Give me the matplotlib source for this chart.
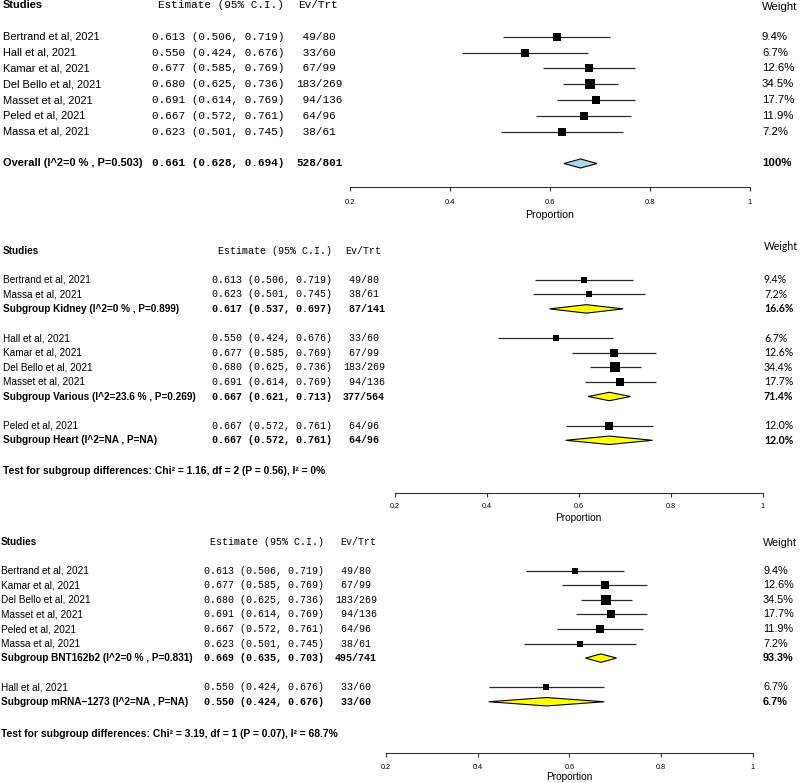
import matplotlib.pyplot as plt
import matplotlib.transforms as mtransforms
import numpy as np

W, H, DPI = 800, 783, 100
SANS = "Liberation Sans"
MONO = "Liberation Mono"

# study-level data (same seven studies in every panel)
study_names = ["Bertrand et al, 2021", "Hall et al, 2021", "Kamar et al, 2021",
               "Del Bello et al, 2021", "Masset et al, 2021", "Peled et al, 2021",
               "Massa et al, 2021"]
study_est = [0.613, 0.550, 0.677, 0.680, 0.691, 0.667, 0.623]
study_lo = [0.506, 0.424, 0.585, 0.625, 0.614, 0.572, 0.501]
study_hi = [0.719, 0.676, 0.769, 0.736, 0.769, 0.761, 0.745]
study_events = [49, 33, 67, 183, 94, 64, 38]
study_totals = [80, 60, 99, 269, 136, 96, 61]

# panel 1: pooled
overall_members = [[0, 1, 2, 3, 4, 5, 6]]
overall_study_weights = [[9.4, 6.7, 12.6, 34.5, 17.7, 11.9, 7.2]]
overall_labels = ["Overall (I^2=0 % , P=0.503)"]
overall_est = [0.661]
overall_lo = [0.628]
overall_hi = [0.694]
overall_events = [528]
overall_totals = [801]
overall_weights = [100]

# panel 2: by transplant type
transplant_members = [[0, 6], [1, 2, 3, 4], [5]]
transplant_study_weights = [[9.4, 7.2], [6.7, 12.6, 34.4, 17.7], [12.0]]
transplant_labels = ["Subgroup Kidney (I^2=0 % , P=0.899)",
                     "Subgroup Various (I^2=23.6 % , P=0.269)",
                     "Subgroup Heart (I^2=NA , P=NA)"]
transplant_est = [0.617, 0.667, 0.667]
transplant_lo = [0.537, 0.621, 0.572]
transplant_hi = [0.697, 0.713, 0.761]
transplant_events = [87, 377, 64]
transplant_totals = [141, 564, 96]
transplant_weights = [16.6, 71.4, 12.0]
transplant_test = "Test for subgroup differences: Chi\u00b2 = 1.16, df = 2 (P = 0.56), I\u00b2 = 0%"

# panel 3: by vaccine
vaccine_members = [[0, 2, 3, 4, 5, 6], [1]]
vaccine_study_weights = [[9.4, 12.6, 34.5, 17.7, 11.9, 7.2], [6.7]]
vaccine_labels = ["Subgroup BNT162b2 (I^2=0 % , P=0.831)",
                  "Subgroup mRNA\u22121273 (I^2=NA , P=NA)"]
vaccine_est = [0.669, 0.550]
vaccine_lo = [0.635, 0.424]
vaccine_hi = [0.703, 0.676]
vaccine_events = [495, 33]
vaccine_totals = [741, 60]
vaccine_weights = [93.3, 6.7]
vaccine_test = "Test for subgroup differences: Chi\u00b2 = 3.19, df = 1 (P = 0.07), I\u00b2 = 68.7%"

x_ticks = [0.2, 0.4, 0.6, 0.8, 1.0]
x_ticklabels = ["0.2", "0.4", "0.6", "0.8", "1"]


def fmt_w(w):
  return "100%" if w == 100 else f"{w:.1f}%"


def draw_panel(fig, lay, members, sweights, labels, est, lo, hi, ev, tot, wts, test=None):
  row_px = lay["row_px"]
  axis_row = (lay["axis_y"] - lay["header_y"]) / row_px
  ax = fig.add_axes([lay["x0"] / W, 1 - lay["axis_y"] / H,
                     (lay["x1"] - lay["x0"]) / W, (lay["axis_y"] - lay["header_y"]) / H])
  ax.set_xlim(0.2, 1.0)
  ax.set_ylim(axis_row, 0)
  ax.patch.set_alpha(0)
  for s in ["top", "right", "left"]:
    ax.spines[s].set_visible(False)
  ax.spines["bottom"].set_color("#333333")
  ax.spines["bottom"].set_linewidth(0.8)
  ax.set_yticks([])
  ax.set_xticks(x_ticks)
  ax.set_xticklabels(x_ticklabels, fontsize=lay["tick_fs"], family=SANS)
  ax.tick_params(axis="x", length=2.6, width=0.8, color="#333333", pad=lay["tick_pad"])
  ax.annotate("Proportion", xy=(0.5, 0), xycoords="axes fraction",
              xytext=(0, -lay["xlabel_dy"] * 72 / DPI), textcoords="offset points",
              ha="center", va="center", fontsize=lay["xlabel_fs"], family=SANS)

  tr = mtransforms.blended_transform_factory(fig.transFigure, ax.transData)
  fs = lay["fs"]

  def row_text(row, name, e, l, h, n_ev, n_tot, w, bold):
    fw = "bold" if bold else "normal"
    ax.text(lay["lab_x"] / W, row, name, transform=tr, ha="left", va="center",
            fontsize=fs, family=SANS, fontweight=fw)
    ax.text(lay["est_x"] / W, row, f"{e:.3f} ({l:.3f}, {h:.3f})", transform=tr,
            ha="right", va="center", fontsize=fs, family=MONO, fontweight=fw)
    ax.text(lay["ev_x"] / W, row, f"{n_ev:>3}/{n_tot}", transform=tr,
            ha="left", va="center", fontsize=fs, family=MONO, fontweight=fw)
    ax.text(lay["w_x"] / W, row, fmt_w(w), transform=tr, ha="left", va="center",
            fontsize=lay["wfs"], family=lay["wfont"], fontweight=fw)

  # headers
  ax.text(lay["lab_x"] / W, 0, "Studies", transform=tr, ha="left", va="center",
          fontsize=fs, family=SANS, fontweight="bold")
  ax.text(lay["est_x"] / W, 0, "Estimate (95% C.I.)", transform=tr, ha="right",
          va="center", fontsize=fs, family=MONO)
  ax.text(lay["evh_x"] / W, 0, "Ev/Trt", transform=tr, ha="left", va="center",
          fontsize=fs, family=MONO)
  ax.text(lay["w_x"] / W, lay["wh_row"], "Weight", transform=tr, ha="left",
          va="center", fontsize=lay["wfs"], family=lay["wfont"])

  row = 2
  for g in range(len(members)):
    for k, idx in enumerate(members[g]):
      w = sweights[g][k]
      ax.hlines(row, study_lo[idx], study_hi[idx], color="#2a2a2a", lw=0.9, zorder=2)
      side = (4.8 + 0.94 * np.sqrt(w)) * lay["sq_scale"] * 72 / DPI
      ax.plot([study_est[idx]], [row], marker="s", ms=side, color="black",
              mec="black", mew=0, zorder=3)
      row_text(row, study_names[idx], study_est[idx], study_lo[idx], study_hi[idx],
               study_events[idx], study_totals[idx], w, False)
      row += 1
    row += lay["summary_gap"]
    hh = lay["diamond_h"] / 2
    ax.fill([lo[g], est[g], hi[g], est[g]], [row, row - hh, row, row + hh],
            facecolor=lay["diamond_color"], edgecolor="black", lw=0.8, zorder=3)
    row_text(row, labels[g], est[g], lo[g], hi[g], ev[g], tot[g], wts[g], True)
    row += 2

  if test is not None:
    ax.text(lay["lab_x"] / W, lay["test_row"], test, transform=tr, ha="left",
            va="center", fontsize=lay["test_fs"], family=SANS, fontweight="bold")
  return ax


panel1 = dict(header_y=5, row_px=15.85, axis_y=187.3, x0=350, x1=750,
              lab_x=3, est_x=284, ev_x=296, evh_x=298, w_x=762, wh_row=0.1,
              fs=7.9, wfs=8.2, wfont=SANS, tick_fs=5.5, tick_pad=5.5,
              xlabel_fs=7.6, xlabel_dy=27.5, sq_scale=1.0, diamond_h=0.57,
              diamond_color="#add8e6", summary_gap=1)
panel2 = dict(header_y=250.5, row_px=14.6, axis_y=493.3, x0=394.5, x1=762.5,
              lab_x=3, est_x=332.5, ev_x=343, evh_x=345, w_x=764, wh_row=-0.25,
              fs=7.2, wfs=7.6, wfont="Lato", tick_fs=5.2, tick_pad=4.7,
              xlabel_fs=7.3, xlabel_dy=24.5, sq_scale=0.9, diamond_h=0.58,
              diamond_color="#ffff00", summary_gap=0, test_row=15.1, test_fs=7.35)
panel3 = dict(header_y=541.7, row_px=14.55, axis_y=753.3, x0=386, x1=752.7,
              lab_x=1, est_x=324.5, ev_x=335, evh_x=340, w_x=763, wh_row=0.1,
              fs=7.2, wfs=7.8, wfont=SANS, tick_fs=5.2, tick_pad=4.8,
              xlabel_fs=7.3, xlabel_dy=24.0, sq_scale=0.9, diamond_h=0.58,
              diamond_color="#ffff00", summary_gap=0, test_row=13.2, test_fs=7.35)

fig = plt.figure(figsize=(W / DPI, H / DPI), dpi=DPI)
fig.patch.set_facecolor("white")

draw_panel(fig, panel1, overall_members, overall_study_weights, overall_labels,
           overall_est, overall_lo, overall_hi, overall_events, overall_totals,
           overall_weights)
draw_panel(fig, panel2, transplant_members, transplant_study_weights, transplant_labels,
           transplant_est, transplant_lo, transplant_hi, transplant_events,
           transplant_totals, transplant_weights, transplant_test)
draw_panel(fig, panel3, vaccine_members, vaccine_study_weights, vaccine_labels,
           vaccine_est, vaccine_lo, vaccine_hi, vaccine_events, vaccine_totals,
           vaccine_weights, vaccine_test)

fig.savefig("out.png", dpi=DPI, facecolor="white")
plt.close(fig)
